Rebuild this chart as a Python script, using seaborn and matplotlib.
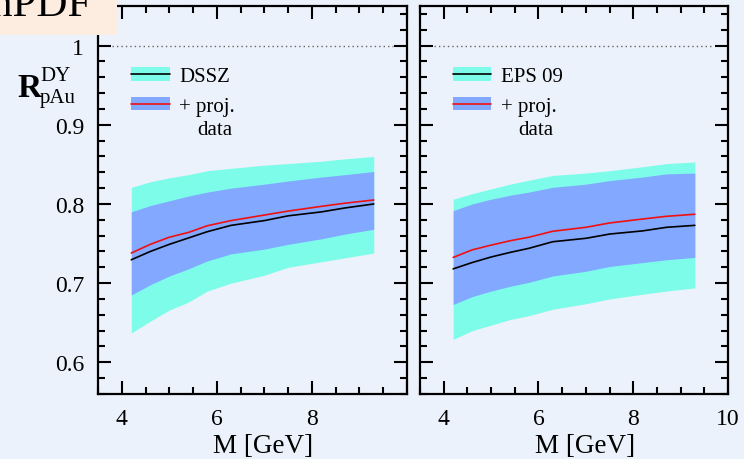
import numpy as np
import pandas as pd
import matplotlib
matplotlib.use("Agg")
import matplotlib.pyplot as plt
from matplotlib.patches import Patch, Rectangle
from matplotlib.lines import Line2D
from matplotlib.legend_handler import HandlerTuple
from matplotlib.ticker import MultipleLocator
import seaborn as sns

# Dilepton invariant mass grid [GeV]
mass = [4.2, 4.6, 5.0, 5.4, 5.8, 6.3, 7.0, 7.5, 8.2, 8.7, 9.3]

# DSSZ: central value and uncertainty bands, before / after adding projected data
dssz_outer_hi = [0.821, 0.828, 0.833, 0.837, 0.842, 0.845, 0.849, 0.851, 0.854, 0.857, 0.860]
dssz_outer_lo = [0.637, 0.652, 0.666, 0.676, 0.690, 0.700, 0.710, 0.720, 0.727, 0.732, 0.738]
dssz_inner_hi = [0.790, 0.798, 0.804, 0.810, 0.815, 0.820, 0.825, 0.829, 0.834, 0.837, 0.841]
dssz_inner_lo = [0.685, 0.698, 0.709, 0.718, 0.728, 0.737, 0.743, 0.749, 0.756, 0.762, 0.768]
dssz_central = [0.7295, 0.740, 0.749, 0.757, 0.765, 0.773, 0.779, 0.785, 0.790, 0.795, 0.800]
dssz_reweighted = [0.738, 0.749, 0.758, 0.764, 0.7725, 0.779, 0.786, 0.791, 0.797, 0.801, 0.805]

# EPS09: same quantities
eps_outer_hi = [0.806, 0.813, 0.819, 0.825, 0.830, 0.836, 0.839, 0.842, 0.847, 0.851, 0.853]
eps_outer_lo = [0.629, 0.640, 0.647, 0.654, 0.659, 0.667, 0.674, 0.680, 0.686, 0.690, 0.694]
eps_inner_hi = [0.7915, 0.800, 0.806, 0.811, 0.815, 0.821, 0.825, 0.8295, 0.834, 0.838, 0.839]
eps_inner_lo = [0.673, 0.683, 0.690, 0.696, 0.701, 0.709, 0.715, 0.721, 0.726, 0.7295, 0.7325]
eps_central = [0.718, 0.726, 0.733, 0.7388, 0.744, 0.7523, 0.7566, 0.762, 0.766, 0.7705, 0.773]
eps_reweighted = [0.7325, 0.742, 0.748, 0.7535, 0.758, 0.7655, 0.7705, 0.776, 0.781, 0.7844, 0.787]

set_names = ["DSSZ", "EPS 09"]
x_ticks = [4, 6, 8, 10]
y_ticks = [0.6, 0.7, 0.8, 0.9, 1.0]
y_tick_labels = ["0.6", "0.7", "0.8", "0.9", "1"]

BG = "#ECF2FB"
CYAN = "#7DFCE9"
BLUE = "#82A8FF"
RED = "#F01010"

sns.set_theme(style="ticks", rc={
    "axes.facecolor": BG,
    "figure.facecolor": BG,
    "axes.linewidth": 1.5,
    "xtick.direction": "in",
    "ytick.direction": "in",
    "text.color": "black",
    "axes.labelcolor": "black",
    "xtick.color": "black",
    "ytick.color": "black",
})
plt.rcParams["font.family"] = ["Liberation Serif", "DejaVu Serif"]

frames = []
for name, cols in zip(set_names, [
    (dssz_outer_lo, dssz_outer_hi, dssz_inner_lo, dssz_inner_hi, dssz_central, dssz_reweighted),
    (eps_outer_lo, eps_outer_hi, eps_inner_lo, eps_inner_hi, eps_central, eps_reweighted),
]):
    frames.append(pd.DataFrame({
        "set": name, "M": mass,
        "outer_lo": cols[0], "outer_hi": cols[1],
        "inner_lo": cols[2], "inner_hi": cols[3],
        "central": cols[4], "reweighted": cols[5],
    }))
df = pd.concat(frames, ignore_index=True)

W, H = 744, 460
fig = plt.figure(figsize=(W / 100, H / 100), dpi=100)

def px_box(x0, y0, x1, y1):
    return [x0 / W, 1 - y1 / H, (x1 - x0) / W, (y1 - y0) / H]

axes = [fig.add_axes(px_box(98, 7, 407, 395)), fig.add_axes(px_box(420, 7, 728, 395))]

for i, (ax, name) in enumerate(zip(axes, set_names)):
    d = df[df["set"] == name]
    ax.fill_between(d["M"], d["outer_lo"], d["outer_hi"], color=CYAN, lw=0, zorder=1)
    ax.fill_between(d["M"], d["inner_lo"], d["inner_hi"], color=BLUE, lw=0, zorder=2)
    sns.lineplot(data=d, x="M", y="central", ax=ax, color="black", lw=1.2, zorder=3)
    sns.lineplot(data=d, x="M", y="reweighted", ax=ax, color=RED, lw=1.2, zorder=4)
    ax.axhline(1.0, xmin=0.045, xmax=0.955, ls=(0, (1, 2.2)), color="#666666", lw=1.0, zorder=2)

    ax.set_xlim(3.5, 10)
    ax.set_ylim(0.56, 1.05)
    ax.set_xticks(x_ticks)
    ax.set_yticks(y_ticks)
    ax.xaxis.set_minor_locator(MultipleLocator(0.5))
    ax.yaxis.set_minor_locator(MultipleLocator(0.02))
    ax.tick_params(which="both", top=True, right=True, width=1.5, colors="black")
    ax.tick_params(which="major", length=9.5, labelsize=17, pad=10)
    ax.tick_params(which="minor", length=4.8)
    if i == 0:
        ax.set_xticklabels(["4", "6", "8", ""])
        ax.set_yticklabels(y_tick_labels)
    else:
        ax.set_xticklabels(["4", "6", "8", "10"])
        ax.set_yticklabels([])
    ax.set_ylabel("")
    ax.set_xlabel("M [GeV]", fontsize=19.5, labelpad=2)
    ax.xaxis.set_label_coords(0.535, -0.1)
    for s in ax.spines.values():
        s.set_linewidth(1.6)
        s.set_color("black")

    handles = [
        (Patch(facecolor=CYAN, lw=0), Line2D([], [], color="black", lw=1.2)),
        (Patch(facecolor=BLUE, lw=0), Line2D([], [], color=RED, lw=1.2)),
    ]
    ax.legend(handles, [name, "+ proj."], handler_map={tuple: HandlerTuple(ndivide=1)},
              loc="upper left", bbox_to_anchor=(0.107, 0.842), frameon=False,
              fontsize=15, handlelength=1.85, handleheight=0.62, handletextpad=0.45,
              labelspacing=0.5, borderpad=0, borderaxespad=0)
    ax.text(0.32, 0.669, "data", transform=ax.transAxes, fontsize=15, ha="left", va="baseline")

# y-axis title
fig.text(17 / W, 1 - 97 / H, "R", fontsize=24, fontweight="bold", ha="left", va="baseline")
fig.text(40 / W, 1 - 81 / H, "DY", fontsize=15, ha="left", va="baseline")
fig.text(40 / W, 1 - 103 / H, "pAu", fontsize=15, ha="left", va="baseline")

# corner label
fig.patches.append(Rectangle((0, 1 - 36 / H), 117 / W, 36 / H, transform=fig.transFigure,
                             facecolor="#FDEDE0", edgecolor="none", zorder=5))
fig.text(91 / W, 1 - 16 / H, "nPDF", fontsize=31, ha="right", va="baseline", zorder=6)

fig.savefig("out.png", dpi=100, facecolor=BG)
